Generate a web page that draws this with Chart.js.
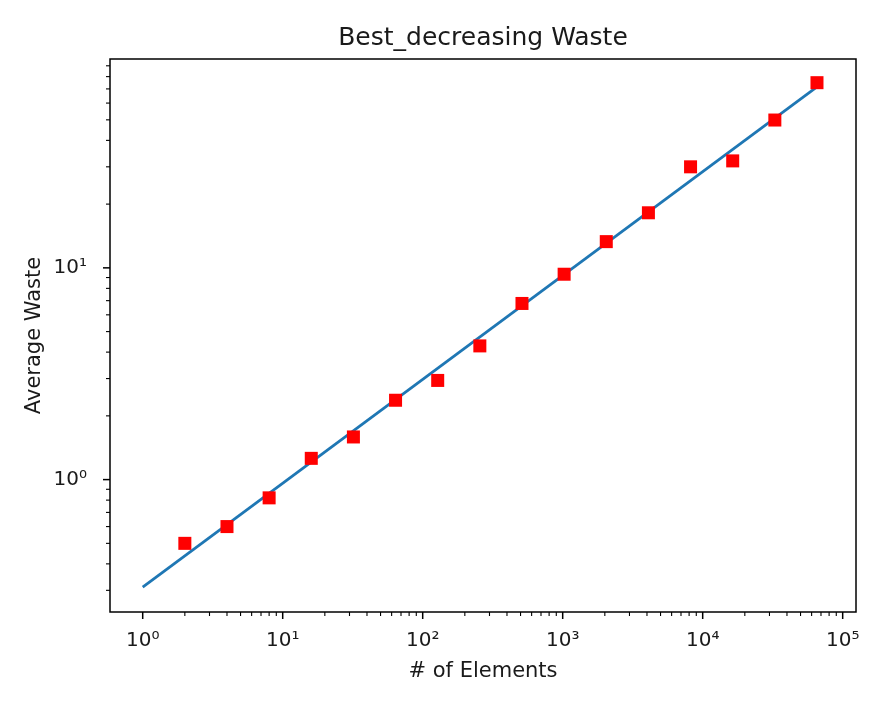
<!DOCTYPE html>
<html>
<head>
<meta charset="utf-8">
<script src="https://cdn.jsdelivr.net/npm/chart.js@4.4.1/dist/chart.umd.min.js"></script>
<style>
  html, body { margin: 0; padding: 0; background: #fff; }
  #wrap { width: 886px; height: 702px; }
</style>
</head>
<body>
<div id="wrap"><canvas id="c" width="886" height="702"></canvas></div>
<script>
// ---- data ----
const elementCounts = [2, 4, 8, 16, 32, 64, 128, 256, 512, 1024, 2048, 4096, 8192, 16384, 32768, 65536];
const averageWaste  = [0.50, 0.60, 0.82, 1.26, 1.59, 2.37, 2.94, 4.28, 6.79, 9.33, 13.3, 18.2, 30.0, 32.0, 49.9, 74.9];
const fitCounts = [1, 65536];
const fitWaste  = [0.311, 71.5];
const xMajorTicks = [1, 10, 100, 1000, 10000, 100000];
const yMajorTicks = [0.1, 1, 10, 100];
const minorMultipliers = [2, 3, 4, 5, 6, 7, 8, 9];
const xRange = [0.584, 124500];
const yRange = [0.237, 96.9];
const titleText = 'Best_decreasing Waste';
const xTitle = '# of Elements';
const yTitle = 'Average Waste';

const SUP = {'-':'⁻','0':'⁰','1':'¹','2':'²','3':'³','4':'⁴','5':'⁵','6':'⁶','7':'⁷','8':'⁸','9':'⁹'};
function isPow10(v) { const l = Math.log10(v); return Math.abs(l - Math.round(l)) < 1e-9; }
function powLabel(v) { return '10' + String(Math.round(Math.log10(v))).split('').map(c => SUP[c]).join(''); }
function buildTicks(majors, min, max) {
  const out = [];
  majors.forEach(m => {
    if (m >= min * 0.9999 && m <= max * 1.0001) out.push({ value: m });
    minorMultipliers.forEach(k => { const v = m * k; if (v >= min && v <= max) out.push({ value: v }); });
  });
  return out.sort((a, b) => a.value - b.value);
}

const FONT = 'DejaVu Sans';
const TEXT = '#1a1a1a';

const frameTicks = {
  id: 'frameTicks',
  afterDraw(chart) {
    const { ctx, chartArea: a } = chart;
    ctx.save();
    ctx.strokeStyle = '#000';
    ['x', 'y'].forEach(id => {
      const s = chart.scales[id];
      s.ticks.forEach(t => {
        const major = isPow10(t.value);
        const len = major ? 7 : 4;
        ctx.lineWidth = major ? 1.5 : 1.1;
        const p = s.getPixelForValue(t.value);
        ctx.beginPath();
        if (id === 'x') { ctx.moveTo(p, a.bottom); ctx.lineTo(p, a.bottom + len); }
        else { ctx.moveTo(a.left, p); ctx.lineTo(a.left - len, p); }
        ctx.stroke();
      });
    });
    ctx.lineWidth = 1.5;
    ctx.strokeRect(a.left, a.top, a.right - a.left, a.bottom - a.top);
    // axes title, centred over the plot area
    ctx.fillStyle = TEXT;
    ctx.font = '25px "' + FONT + '"';
    ctx.textAlign = 'center';
    ctx.textBaseline = 'middle';
    ctx.fillText(titleText, (a.left + a.right) / 2, a.top - 21);
    ctx.restore();
  }
};

new Chart(document.getElementById('c'), {
  type: 'scatter',
  data: {
    datasets: [
      {
        label: 'data',
        data: elementCounts.map((x, i) => ({ x, y: averageWaste[i] })),
        pointStyle: 'rect',
        pointRadius: 9.2,
        pointHoverRadius: 9.2,
        backgroundColor: '#ff0000',
        borderColor: '#ff0000',
        borderWidth: 0,
        showLine: false,
        order: 0
      },
      {
        label: 'fit',
        data: fitCounts.map((x, i) => ({ x, y: fitWaste[i] })),
        showLine: true,
        pointRadius: 0,
        borderColor: '#1f77b4',
        borderWidth: 2.8,
        fill: false,
        order: 1
      }
    ]
  },
  options: {
    responsive: false,
    animation: false,
    devicePixelRatio: 1,
    layout: { padding: { left: 0, right: 30, top: 59, bottom: 0 } },
    plugins: {
      legend: { display: false },
      tooltip: { enabled: false },
      title: { display: false }
    },
    scales: {
      x: {
        type: 'logarithmic',
        position: 'bottom',
        min: xRange[0],
        max: xRange[1],
        afterBuildTicks: s => { s.ticks = buildTicks(xMajorTicks, xRange[0], xRange[1]); },
        afterFit: s => { s.height = 90; },
        grid: { display: false },
        border: { display: false },
        ticks: {
          autoSkip: false, maxRotation: 0, minRotation: 0,
          padding: 9,
          color: TEXT,
          font: { family: FONT, size: 20 },
          callback: v => isPow10(v) ? powLabel(v) : ''
        },
        title: {
          display: true, text: xTitle, color: TEXT,
          font: { family: FONT, size: 21 },
          padding: { top: 0, bottom: 17.4 }
        }
      },
      y: {
        type: 'logarithmic',
        position: 'left',
        min: yRange[0],
        max: yRange[1],
        afterBuildTicks: s => { s.ticks = buildTicks(yMajorTicks, yRange[0], yRange[1]); },
        afterFit: s => { s.width = 110; },
        grid: { display: false },
        border: { display: false },
        ticks: {
          autoSkip: false,
          padding: 15,
          color: TEXT,
          font: { family: FONT, size: 20 },
          callback: v => isPow10(v) ? powLabel(v) : ''
        },
        title: {
          display: true, text: yTitle, color: TEXT,
          font: { family: FONT, size: 21 },
          padding: { top: 22.4, bottom: 0 }
        }
      }
    }
  },
  plugins: [frameTicks]
});
</script>
</body>
</html>
